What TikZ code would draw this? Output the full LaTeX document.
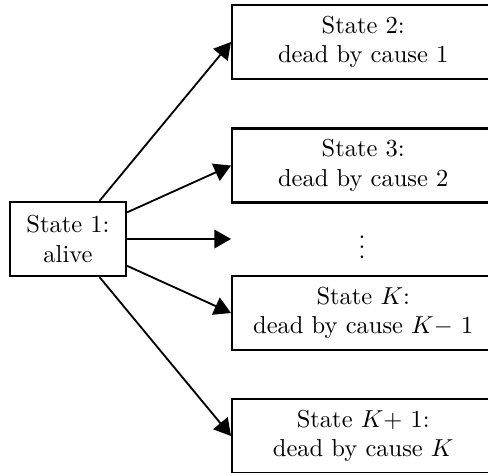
\documentclass[tikz,border=0pt]{standalone}
\usepackage{tikz}
\usetikzlibrary{arrows.meta}
\tikzset{
  statebox/.style={rectangle, draw=black, line width=0.9pt, align=center, minimum width=107pt, minimum height=30.2pt, inner sep=2pt},
  arrowline/.style={-{Triangle[length=6.8pt, width=7.6pt]}, line width=0.75pt},
}
\begin{document}
\begin{tikzpicture}[x=0.408pt, y=-0.408pt]
\useasboundingbox (0,0) rectangle (488,472);
\clip (0,0) rectangle (488,472);
\node[statebox, minimum width=47.3pt] (alive) at (68,239) {State 1:\\ alive};
\node[statebox, anchor=west] (cause1) at (231,42) {State 2:\\ dead by cause 1};
\node[statebox, anchor=west] (cause2) at (231,165.5) {State 3:\\ dead by cause 2};
\node (dots) at (362,240) {$\vdots$};
\coordinate (dotsin) at (231,239);
\node[statebox, anchor=west] (causeKm) at (231,313) {State $K$:\\ dead by cause $K{-}$ 1};
\node[statebox, anchor=west] (causeK) at (231,436) {State $K{+}$ 1:\\ dead by cause $K$};

\draw[arrowline] (alive) -- (cause1.west);
\draw[arrowline] (alive) -- (cause2.west);
\draw[arrowline] (alive) -- (dotsin);
\draw[arrowline] (alive) -- (causeKm.west);
\draw[arrowline] (alive) -- (causeK.west);
\end{tikzpicture}
\end{document}
